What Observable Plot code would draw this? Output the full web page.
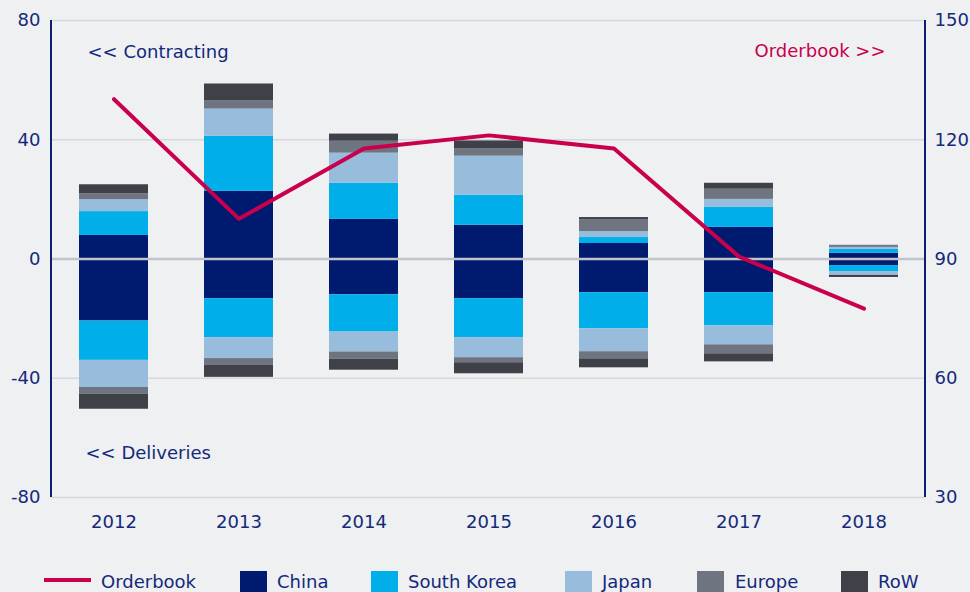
<!DOCTYPE html>
<html>
<head>
<meta charset="utf-8">
<script src="https://cdn.jsdelivr.net/npm/d3@7"></script>
<script src="https://cdn.jsdelivr.net/npm/@observablehq/plot@0.6"></script>
<style>
  html, body { margin: 0; padding: 0; background: #eff0f2; }
  #wrap { width: 970px; height: 592px; overflow: hidden; position: relative; font-family: "DejaVu Sans", Verdana, sans-serif; }
  #legend { position: relative; height: 36px; color: #13297a; font-size: 18px; }
  #legend .sw { position: absolute; }
  #legend .lb { position: absolute; top: 14px; line-height: 24px; white-space: nowrap; }
</style>
</head>
<body>
<div id="wrap">
  <div id="chart"></div>
  <div id="legend"></div>
</div>
<script>
// ---- data ----
const years = ["2012", "2013", "2014", "2015", "2016", "2017", "2018"];
const seriesNames = ["China", "South Korea", "Japan", "Europe", "RoW"];
const seriesColors = ["#001a70", "#00afe9", "#98bcdb", "#6e7580", "#3f4149"];

// Contracting (positive, m dwt)
const contractChina  = [7.9, 22.7, 13.3, 11.3, 5.2, 10.6, 1.9];
const contractKorea  = [8.0, 18.5, 12.1, 10.1, 2.0, 6.7, 1.3];
const contractJapan  = [4.0, 9.1, 10.1, 13.1, 2.0, 2.7, 0.7];
const contractEurope = [2.0, 2.7, 4.0, 2.4, 4.0, 3.4, 0.7];
const contractRoW    = [3.0, 5.7, 2.4, 2.7, 0.7, 2.0, 0];

// Deliveries (negative, m dwt)
const deliverChina  = [-20.8, -13.3, -12.0, -13.3, -11.3, -11.3, -2.2];
const deliverKorea  = [-13.2, -13.1, -12.5, -13.1, -12.1, -11.1, -2.0];
const deliverJapan  = [-9.1, -7.0, -6.7, -6.7, -7.7, -6.4, -1.3];
const deliverEurope = [-2.3, -2.3, -2.4, -1.7, -2.4, -3.0, 0];
const deliverRoW    = [-5.0, -4.0, -3.7, -3.7, -3.0, -2.7, -0.7];

// Orderbook (right axis)
const orderbook = [130.2, 100.1, 117.8, 121.1, 117.8, 90.6, 77.5];

const leftTicks = [-80, -40, 0, 40, 80];
const rightTicks = [30, 60, 90, 120, 150];

// ---- build tables ----
const contract = [contractChina, contractKorea, contractJapan, contractEurope, contractRoW];
const deliver = [deliverChina, deliverKorea, deliverJapan, deliverEurope, deliverRoW];
const rows = [];
years.forEach((yr, i) => {
  seriesNames.forEach((s, k) => { if (contract[k][i]) rows.push({year: yr, series: s, value: contract[k][i]}); });
  seriesNames.forEach((s, k) => { if (deliver[k][i]) rows.push({year: yr, series: s, value: deliver[k][i]}); });
});
// map right axis (30..150) onto left axis (-80..80)
const toLeft = v => (v - 90) * 160 / 120;
const toRight = v => v * 120 / 160 + 90;
const lineData = years.map((yr, i) => ({year: yr, v: toLeft(orderbook[i])}));

const navy = "#13297a";
const crimson = "#c8004d";

const axisLines = (index, scales, values, dimensions) => {
  const g = d3.create("svg:g");
  const y0 = scales.y(80), y1 = scales.y(-80);
  const xl = dimensions.marginLeft, xr = dimensions.width - dimensions.marginRight;
  [xl, xr].forEach(x => g.append("line").attr("x1", x).attr("x2", x).attr("y1", y0).attr("y2", y1)
    .attr("stroke", "#0d1f6e").attr("stroke-width", 2));
  return g.node();
};

const chart = Plot.plot({
  width: 970,
  height: 556,
  marginLeft: 51,
  marginRight: 45,
  marginTop: 20,
  marginBottom: 59,
  style: {background: "#eff0f2", color: navy, fontFamily: "DejaVu Sans, Verdana, sans-serif", fontSize: "18px"},
  x: {type: "band", domain: years, paddingInner: 0.45, paddingOuter: 0.215, label: null},
  y: {domain: [-80, 80], label: null},
  color: {domain: seriesNames, range: seriesColors},
  marks: [
    Plot.ruleY(leftTicks.filter(d => d !== 0), {stroke: "#d6d8dc", strokeWidth: 1.5}),
    Plot.barY(rows, {x: "year", y: "value", fill: "series", order: null}),
    Plot.ruleY([0], {stroke: "#c2c4cb", strokeWidth: 2.5}),
    Plot.line(lineData, {x: "year", y: "v", stroke: crimson, strokeWidth: 4}),
    axisLines,
    Plot.axisY({ticks: leftTicks, anchor: "left", tickSize: 0, tickPadding: 11, fontSize: 18, label: null, tickFormat: d => String(d)}),
    Plot.axisY({ticks: rightTicks.map(toLeft), anchor: "right", tickSize: 0, tickPadding: 9, fontSize: 18, label: null, tickFormat: d => String(Math.round(toRight(d)))}),
    Plot.axisX({tickSize: 0, tickPadding: 18, fontSize: 18, label: null}),
    Plot.text(["<< Contracting"], {frameAnchor: "top-left", lineAnchor: "middle", text: d => d, dx: 36, dy: 32, textAnchor: "start", fill: navy, fontSize: 18}),
    Plot.text(["Orderbook >>"], {frameAnchor: "top-right", lineAnchor: "middle", text: d => d, dx: -40, dy: 31, textAnchor: "end", fill: crimson, fontSize: 18}),
    Plot.text(["<< Deliveries"], {frameAnchor: "bottom-left", lineAnchor: "middle", text: d => d, dx: 34, dy: -44, textAnchor: "start", fill: navy, fontSize: 18})
  ]
});
document.getElementById("chart").appendChild(chart);

// ---- legend ----
const legend = document.getElementById("legend");
const legendItems = [
  {label: "Orderbook", color: crimson, line: true, sx: 44, tx: 101},
  {label: "China", color: seriesColors[0], sx: 240, tx: 277},
  {label: "South Korea", color: seriesColors[1], sx: 371, tx: 408},
  {label: "Japan", color: seriesColors[2], sx: 565, tx: 602},
  {label: "Europe", color: seriesColors[3], sx: 697, tx: 735},
  {label: "RoW", color: seriesColors[4], sx: 841, tx: 878}
];
legendItems.forEach(it => {
  const sw = document.createElement("div");
  sw.className = "sw";
  sw.style.left = it.sx + "px";
  sw.style.background = it.color;
  if (it.line) { sw.style.top = "22px"; sw.style.width = "47px"; sw.style.height = "4px"; }
  else { sw.style.top = "15px"; sw.style.width = "27px"; sw.style.height = "24px"; }
  legend.appendChild(sw);
  const lb = document.createElement("div");
  lb.className = "lb";
  lb.style.left = it.tx + "px";
  lb.textContent = it.label;
  legend.appendChild(lb);
});
</script>
</body>
</html>
